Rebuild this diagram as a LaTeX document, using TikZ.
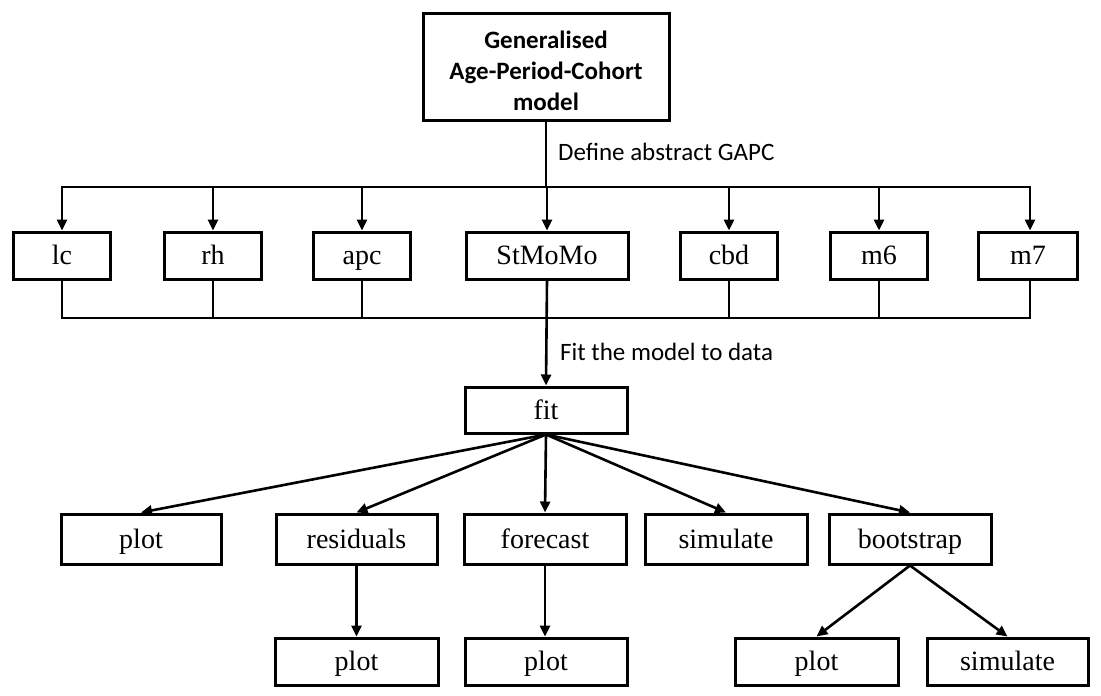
\documentclass[tikz,border=0pt]{standalone}
\usepackage{fontspec}
\setmainfont{Liberation Serif}
\newfontfamily\labfont{Carlito}
\usetikzlibrary{arrows.meta}
\begin{document}
\begin{tikzpicture}[x=1pt,y=-1pt,
  frame/.style={draw, line width=3pt, inner sep=0pt, fill=white},
  box/.style={frame, text height=20pt, text depth=2pt, font=\fontsize{28}{32}\selectfont},
  rowbox/.style={box, minimum width=97pt, minimum height=47pt},
  conn/.style={line width=2.6pt, line cap=rect},
  arr/.style={line width=2.6pt, -{Triangle[length=11pt,width=10pt]}},
  lab/.style={font=\labfont\fontsize{25}{30}\selectfont, anchor=base west, inner sep=0pt}]
\useasboundingbox (0,0) rectangle (1101,696);
% top node
\node[frame, minimum width=246pt, minimum height=107pt] (gapc) at (546,66.5) {};
\node[align=center, inner sep=0pt,
      font=\labfont\bfseries\fontsize{25}{31}\selectfont] (gapctext) at (546,70.5)
      {Generalised\\Age-Period-Cohort\\model};
% model row
\node[rowbox] (lc) at (62,255.5) {lc};
\node[rowbox] (rh) at (213,255.5) {rh};
\node[rowbox] (apc) at (362,255.5) {apc};
\node[rowbox, minimum width=162pt] (stmomo) at (547,255.5) {StMoMo};
\node[rowbox] (cbd) at (729,255.5) {cbd};
\node[rowbox] (m6) at (879,255.5) {m6};
\node[rowbox, minimum width=99pt] (m7) at (1028,255.5) {m7};
\coordinate (tl) at (62,187);
\coordinate (tr) at (1030,187);
\coordinate (bl) at (62,318);
\coordinate (br) at (1030,318);
\draw[conn] (gapc.south) -- (gapc.south |- tl);
\draw[conn] (tl) -- (tr);
\foreach \n in {lc,rh,apc,stmomo,cbd,m6}{
  \draw[arr] (\n.north |- tl) -- (\n.north);
  \draw[conn] (\n.south) -- (\n.south |- bl);
}
\draw[arr] (tr) -- (tr |- m7.north);
\draw[conn] (br |- m7.south) -- (br);
\draw[conn] (bl) -- (br);
\node[lab] (deflab) at (558,160) {Define abstract GAPC};
% fit
\node[box, minimum width=162pt, minimum height=46pt] (fit) at (546,410) {fit};
\draw[arr] (stmomo.south) -- (fit.north);
\node[lab] (fitlab) at (560,360) {Fit the model to data};
% row 3
\node[box, minimum width=160pt, minimum height=50pt] (plota) at (141,539) {plot};
\node[box, minimum width=161pt, minimum height=50pt] (resid) at (356.5,539) {residuals};
\node[box, minimum width=162pt, minimum height=50pt] (fore) at (545,539) {forecast};
\node[box, minimum width=162pt, minimum height=50pt] (sima) at (726,539) {simulate};
\node[box, minimum width=162pt, minimum height=50pt] (boot) at (910,539) {bootstrap};
\foreach \n in {plota,resid,fore,sima,boot}{
  \draw[arr] (fit.south) -- (\n.north);
}
% row 4
\node[box, minimum width=163pt, minimum height=47pt] (plotb) at (356.5,661.5) {plot};
\node[box, minimum width=162pt, minimum height=47pt] (plotc) at (546,661.5) {plot};
\node[box, minimum width=163pt, minimum height=47pt] (plotd) at (816.5,661.5) {plot};
\node[box, minimum width=161pt, minimum height=47pt] (simb) at (1007.5,661.5) {simulate};
\draw[arr] (resid.south) -- (plotb.north);
\draw[arr] (fore.south) -- (plotc.north -| fore.south);
\draw[arr] (boot.south) -- (plotd.north);
\draw[arr] (boot.south) -- (simb.north);
\end{tikzpicture}
\end{document}
